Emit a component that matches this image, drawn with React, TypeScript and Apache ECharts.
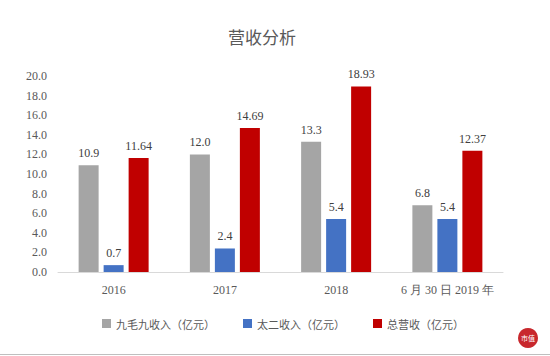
import React, { useEffect, useRef } from "react";
import * as echarts from "echarts";

const categories = ["2016", "2017", "2018", "6 月 30 日 2019 年"];
const jiumaojiu = [10.9, 12.0, 13.3, 6.8];
const taier = [0.7, 2.4, 5.4, 5.4];
const total = [11.64, 14.69, 18.93, 12.37];
const seriesNames = ["九毛九收入（亿元）", "太二收入（亿元）", "总营收（亿元）"];
const labelTexts = [
  ["10.9", "12.0", "13.3", "6.8"],
  ["0.7", "2.4", "5.4", "5.4"],
  ["11.64", "14.69", "18.93", "12.37"],
];

export default function App() {
  const ref = useRef<HTMLDivElement>(null);
  useEffect(() => {
    if (!ref.current) return;
    const chart = echarts.init(ref.current, undefined, { renderer: "svg" });
    const serif = "Liberation Serif";
    const mk = (name: string, data: number[], color: string, idx: number) => ({
      name,
      type: "bar",
      data,
      barWidth: 20,
      barGap: "25%",
      itemStyle: { color },
      label: {
        show: true,
        position: "top",
        distance: 6,
        fontFamily: serif,
        fontSize: 12,
        color: "#404040",
        formatter: (p: any) => labelTexts[idx][p.dataIndex],
      },
    });
    chart.setOption({
      animation: false,
      backgroundColor: "#ffffff",
      title: {
        text: "营收分析",
        left: 257,
        textAlign: "center",
        top: 23,
        textStyle: {
          fontFamily: "Noto Sans CJK SC",
          fontWeight: "normal",
          fontSize: 17,
          color: "#595959",
        },
      },
      grid: { left: 58, right: 47, top: 76, bottom: 84 },
      legend: {
        data: seriesNames,
        top: 313,
        left: 97,
        itemWidth: 9,
        itemHeight: 9,
        itemGap: 28,
        icon: "rect",
        textStyle: {
          fontFamily: "Noto Sans CJK SC",
          fontSize: 11,
          color: "#595959",
        },
      },
      xAxis: {
        type: "category",
        data: categories,
        axisLine: { lineStyle: { color: "#d9d9d9", width: 1 } },
        axisTick: { show: false },
        axisLabel: {
          interval: 0,
          fontFamily: serif,
          fontSize: 12,
          color: "#595959",
          margin: 12,
        },
      },
      yAxis: {
        type: "value",
        min: 0,
        max: 20,
        interval: 2,
        splitLine: { show: false },
        axisLine: { show: false },
        axisTick: { show: false },
        axisLabel: {
          fontFamily: serif,
          fontSize: 12,
          color: "#595959",
          margin: 11,
          formatter: (v: number) => v.toFixed(1),
        },
      },
      series: [
        mk(seriesNames[0], jiumaojiu, "#a5a5a5", 0),
        mk(seriesNames[1], taier, "#4472c4", 1),
        mk(seriesNames[2], total, "#c00000", 2),
      ],
      graphic: [
        {
          type: "circle",
          shape: { cx: 528, cy: 338, r: 10 },
          style: { fill: "#c8282d" },
        },
        {
          type: "text",
          x: 528,
          y: 338,
          style: {
            text: "市值",
            fontSize: 7,
            fill: "#ffffff",
            align: "center",
            verticalAlign: "middle",
            fontFamily: "Noto Sans CJK SC",
          },
        },
        {
          type: "line",
          shape: { x1: 0, y1: 354.5, x2: 550, y2: 354.5 },
          style: { stroke: "#bfbfbf", lineWidth: 1 },
        },
      ],
    });
    return () => chart.dispose();
  }, []);
  return (
    <div
      ref={ref}
      style={{ position: "fixed", left: 0, top: 0, width: 550, height: 356 }}
    />
  );
}
